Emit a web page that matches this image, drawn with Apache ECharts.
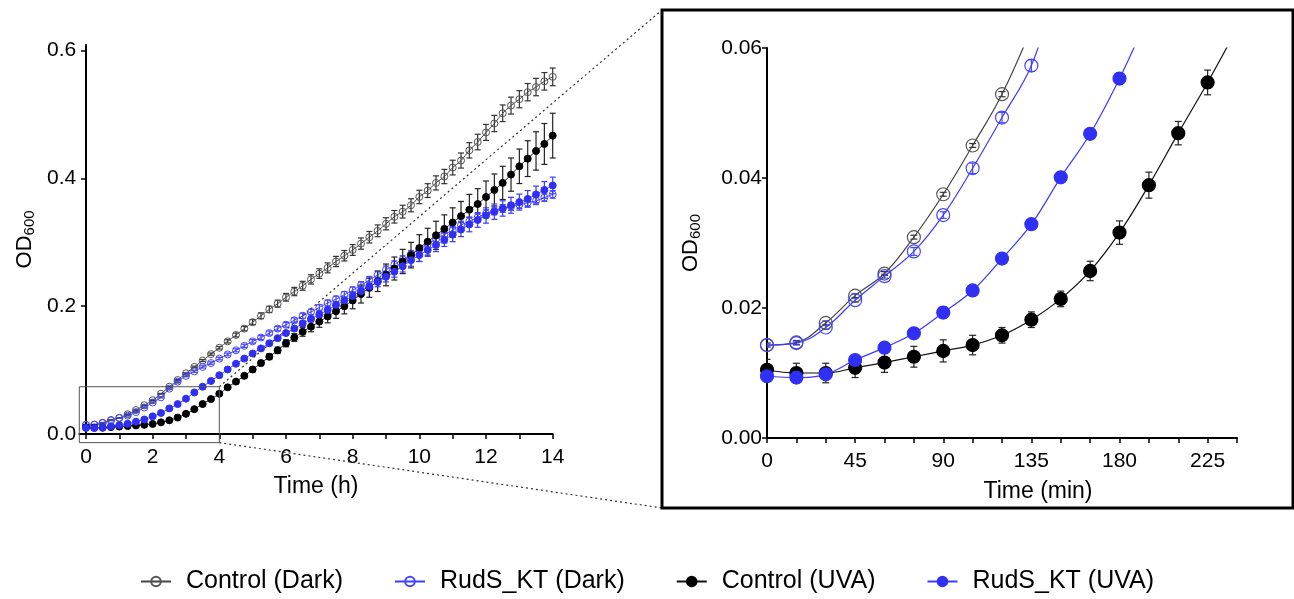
<!DOCTYPE html>
<html><head><meta charset="utf-8">
<script src="https://cdn.jsdelivr.net/npm/echarts@6/dist/echarts.min.js"></script>
<style>html,body{margin:0;padding:0;background:#fff}#c{width:1294px;height:599px}</style>
</head><body><div id="c"></div>
<script>
// time in minutes (sampled every 15 min)
const minutes = [0,15,30,45,60,75,90,105,120,135,150,165,180,195,210,225,240,255,270,285,300,315,330,345,360,375,390,405,420,435,450,465,480,495,510,525,540,555,570,585,600,615,630,645,660,675,690,705,720,735,750,765,780,795,810,825,840];

const seriesNames = ['Control (Dark)', 'RudS_KT (Dark)', 'Control (UVA)', 'RudS_KT (UVA)'];

const ctrlDark = [0.0143,0.0147,0.0177,0.0219,0.0253,0.0309,0.0375,0.0450,0.0529,0.063,0.074,0.0845,0.095,0.105,0.115,0.125,
0.135,0.145,0.155,0.165,0.175,0.185,0.195,0.204,0.214,0.223,0.232,0.242,0.251,0.260,0.270,0.279,
0.288,0.298,0.308,0.318,0.329,0.340,0.348,0.358,0.371,0.381,0.393,0.403,0.417,0.428,0.444,0.457,
0.472,0.486,0.502,0.514,0.524,0.535,0.543,0.552,0.559];
const ctrlDarkErr = [0.0003,0.0003,0.0003,0.0003,0.0003,0.0003,0.0003,0.0003,0.0004,0.0005,0.0006,0.0008,0.001,0.0012,0.0015,0.0018,
0.002,0.0025,0.003,0.0035,0.004,0.0045,0.005,0.0055,0.006,0.0065,0.007,0.0072,0.0075,0.0078,0.008,0.0082,
0.0085,0.0088,0.009,0.0092,0.0095,0.0098,0.010,0.0102,0.0105,0.0108,0.011,0.0112,0.0115,0.0118,0.012,0.0122,
0.0125,0.0127,0.013,0.0132,0.0134,0.0135,0.0136,0.0137,0.0138];

const rudsDark = [0.0143,0.0146,0.0170,0.0212,0.0249,0.0287,0.0343,0.0415,0.0493,0.0573,0.071,0.082,0.091,0.098,0.105,0.111,
0.118,0.1245,0.131,0.138,0.145,0.151,0.158,0.165,0.171,0.178,0.185,0.191,0.198,0.205,0.211,0.218,
0.225,0.233,0.241,0.249,0.257,0.265,0.273,0.281,0.289,0.297,0.305,0.312,0.319,0.327,0.333,0.339,
0.345,0.349,0.353,0.356,0.359,0.362,0.365,0.370,0.375];
const rudsDarkErr = [0.0003,0.0003,0.0003,0.0003,0.0003,0.0006,0.0005,0.0008,0.0008,0.0009,0.001,0.0012,0.0014,0.0016,0.0018,0.002,
0.002,0.0022,0.0024,0.0026,0.0028,0.003,0.0032,0.0034,0.0036,0.0038,0.004,0.0042,0.0044,0.0046,0.0048,0.005,
0.0052,0.0054,0.0056,0.0058,0.006,0.006,0.006,0.006,0.006,0.006,0.006,0.006,0.006,0.006,0.006,0.006,
0.006,0.006,0.006,0.006,0.006,0.006,0.006,0.006,0.006];

const ctrlUVA = [0.0105,0.0100,0.0100,0.0108,0.0116,0.0125,0.0134,0.0143,0.0158,0.0182,0.0214,0.0257,0.0316,0.0389,0.0469,0.0547,
0.063,0.073,0.082,0.091,0.101,0.111,0.121,0.131,0.142,0.151,0.160,0.168,0.176,0.184,0.192,0.200,
0.209,0.219,0.229,0.239,0.249,0.259,0.270,0.280,0.291,0.301,0.311,0.321,0.331,0.341,0.351,0.360,
0.371,0.382,0.393,0.406,0.419,0.431,0.443,0.454,0.467];
const ctrlUVAErr = [0.0016,0.0015,0.0015,0.0015,0.0015,0.0016,0.0017,0.0015,0.0012,0.0012,0.0012,0.0015,0.0018,0.0020,0.0018,0.0019,
0.002,0.0022,0.0025,0.003,0.0035,0.004,0.0045,0.005,0.0055,0.006,0.007,0.008,0.009,0.010,0.011,0.012,
0.013,0.014,0.015,0.016,0.017,0.018,0.019,0.020,0.021,0.021,0.022,0.022,0.023,0.023,0.024,0.024,
0.025,0.025,0.026,0.026,0.027,0.028,0.030,0.032,0.035];

const rudsUVA = [0.0095,0.0093,0.0098,0.0120,0.0139,0.0161,0.0193,0.0227,0.0276,0.0329,0.0401,0.0468,0.0553,0.065,0.074,0.083,
0.092,0.101,0.110,0.118,0.126,0.134,0.142,0.150,0.158,0.165,0.173,0.180,0.187,0.194,0.202,0.209,
0.216,0.224,0.231,0.238,0.246,0.254,0.2625,0.272,0.280,0.288,0.296,0.304,0.312,0.320,0.328,0.335,
0.342,0.348,0.353,0.358,0.363,0.368,0.375,0.382,0.389];
const rudsUVAErr = [0.0004,0.0004,0.0004,0.0004,0.0004,0.0004,0.0009,0.0005,0.0004,0.0004,0.0005,0.0005,0.0009,0.001,0.0012,0.0014,
0.0016,0.0018,0.002,0.0022,0.0024,0.0026,0.0028,0.003,0.0033,0.0036,0.004,0.0043,0.0046,0.005,0.0053,0.0056,
0.006,0.0065,0.007,0.0075,0.008,0.0085,0.009,0.0095,0.010,0.010,0.0105,0.0105,0.011,0.011,0.0115,0.0115,
0.012,0.012,0.012,0.0125,0.0125,0.013,0.013,0.013,0.013];

const leftXTicks = [0,1,2,3,4,5,6,7,8,9,10,11,12,13,14];
const leftXLabels = [0,2,4,6,8,10,12,14];
const leftYTicks = [0,0.2,0.4,0.6];
const rightXTicks = [0,15,30,45,60,75,90,105,120,135,150,165,180,195,210,225,240];
const rightXLabels = [0,45,90,135,180,225];
const rightYTicks = [0,0.02,0.04,0.06];
const zoomBox = {x0:-0.2, x1:4, y0:-0.0135, y1:0.074}; // inset region in hours / OD

const FONT = 'Liberation Sans, Arial, sans-serif';
const styles = [
  {color:'#555555', line:'#444444', fill:'rgba(255,255,255,0)', err:'#333333'},
  {color:'#4646ff', line:'#3c3cff', fill:'rgba(255,255,255,0)', err:'#4646ff'},
  {color:'#000000', line:'#111111', fill:'#000000', err:'#222222'},
  {color:'#3030f5', line:'#3a3aff', fill:'#3030f5', err:'#3a3aff'}
];
const values = [ctrlDark, rudsDark, ctrlUVA, rudsUVA];
const errs = [ctrlDarkErr, rudsDarkErr, ctrlUVAErr, rudsUVAErr];

function errRender(color, cap){
  return function(params, api){
    const x = api.value(0), lo = api.value(1), hi = api.value(2);
    const a = api.coord([x, lo]), b = api.coord([x, hi]);
    const st = {stroke: color, lineWidth: 1.2};
    return {type:'group', children:[
      {type:'line', shape:{x1:a[0],y1:a[1],x2:b[0],y2:b[1]}, style:st},
      {type:'line', shape:{x1:a[0]-cap,y1:a[1],x2:a[0]+cap,y2:a[1]}, style:st},
      {type:'line', shape:{x1:b[0]-cap,y1:b[1],x2:b[0]+cap,y2:b[1]}, style:st}
    ]};
  };
}

const series = [];
// left panel (hours)
values.forEach((vals, k) => {
  const s = styles[k];
  series.push({
    type:'custom', xAxisIndex:0, yAxisIndex:0, z:2, silent:true,
    renderItem: errRender(s.err, 3),
    encode:{x:0, y:[1,2]},
    data: vals.map((v,i)=>[minutes[i]/60, v-errs[k][i], v+errs[k][i]])
  });
});
values.forEach((vals, k) => {
  const s = styles[k];
  series.push({
    name: seriesNames[k], type:'line', xAxisIndex:0, yAxisIndex:0, z:3,
    smooth:0.4, symbol:'circle', symbolSize:7,
    lineStyle:{color:s.line, width:1},
    itemStyle:{color:s.fill, borderColor:s.color, borderWidth:1},
    data: vals.map((v,i)=>[minutes[i]/60, v])
  });
});
// right panel (minutes, first 4 h)
values.forEach((vals, k) => {
  const s = styles[k];
  const d = [];
  vals.forEach((v,i)=>{ if (minutes[i] <= 240 && v + errs[k][i] <= 0.06) d.push([minutes[i], v-errs[k][i], v+errs[k][i]]); });
  series.push({
    type:'custom', xAxisIndex:1, yAxisIndex:1, z:2, silent:true, clip:true,
    renderItem: errRender(s.err, 3.5),
    encode:{x:0, y:[1,2]},
    data: d
  });
});
values.forEach((vals, k) => {
  const s = styles[k];
  series.push({
    name: seriesNames[k], type:'line', xAxisIndex:1, yAxisIndex:1, z:3, clip:true,
    smooth:0.4, symbol:'circle', symbolSize:13,
    lineStyle:{color:s.line, width:1.2},
    itemStyle:{color:s.fill, borderColor:s.color, borderWidth:1.2},
    data: vals.map((v,i)=>[minutes[i], v]).filter(p=>p[0] <= 240)
  });
});

const axisLineStyle = {color:'#000', width:2};
const nameStyleX = {color:'#000', fontSize:23, fontFamily:FONT};
const odName = '{a|OD}{b|600}';
const odRich = {a:{fontSize:22, fontFamily:FONT, color:'#000'}, b:{fontSize:15, fontFamily:FONT, color:'#000', padding:[10,0,0,0]}};

const option = {
  animation:false,
  backgroundColor:'#fff',
  textStyle:{fontFamily:FONT},
  grid:[
    {left:79.3, top:44.9, width:473.4, height:389.1},
    {left:767, top:48, width:470, height:390}
  ],
  xAxis:[
    {gridIndex:0, type:'value', min:-0.2, max:14,
     name:'Time (h)', nameLocation:'middle', nameGap:41, nameTextStyle:nameStyleX,
     axisLine:{show:true, onZero:false, lineStyle:axisLineStyle},
     axisTick:{show:true, length:5, lineStyle:{color:'#000', width:1.5}, customValues:leftXTicks},
     axisLabel:{color:'#000', fontSize:21, fontFamily:FONT, margin:13, customValues:leftXLabels, formatter:v=>String(v)},
     splitLine:{show:false}},
    {gridIndex:1, type:'value', min:0, max:240,
     name:'Time (min)', nameLocation:'middle', nameGap:42,
     nameTextStyle:Object.assign({}, nameStyleX, {padding:[0,0,0,72]}),
     axisLine:{show:true, onZero:false, lineStyle:axisLineStyle},
     axisTick:{show:true, length:5, lineStyle:{color:'#000', width:1.5}, customValues:rightXTicks},
     axisLabel:{color:'#000', fontSize:21, fontFamily:FONT, margin:13, customValues:rightXLabels, formatter:v=>String(v)},
     splitLine:{show:false}}
  ],
  yAxis:[
    {gridIndex:0, type:'value', min:0, max:0.609,
     name:odName, nameLocation:'middle', nameGap:42, nameRotate:90, nameTextStyle:{rich:odRich},
     axisLine:{show:true, onZero:true, lineStyle:axisLineStyle},
     axisTick:{show:true, length:5, lineStyle:{color:'#000', width:1.5}, customValues:leftYTicks},
     axisLabel:{color:'#000', fontSize:21, fontFamily:FONT, margin:3, customValues:leftYTicks, formatter:v=>v.toFixed(1)},
     splitLine:{show:false}},
    {gridIndex:1, type:'value', min:0, max:0.06,
     name:odName, nameLocation:'middle', nameGap:64, nameRotate:90, nameTextStyle:{rich:odRich},
     axisLine:{show:true, onZero:false, lineStyle:axisLineStyle},
     axisTick:{show:true, length:5, lineStyle:{color:'#000', width:1.5}, customValues:rightYTicks},
     axisLabel:{color:'#000', fontSize:21, fontFamily:FONT, margin:5, customValues:rightYTicks, formatter:v=>v.toFixed(2)},
     splitLine:{show:false}}
  ],
  legend:{
    data:seriesNames, left:'center', top:564, itemWidth:30, itemHeight:12, itemGap:51,
    textStyle:{color:'#000', fontSize:25, fontFamily:FONT, padding:[0,0,0,10]}
  },
  series:series
};

const chart = echarts.init(document.getElementById('c'), null, {renderer:'canvas'});
chart.setOption(option);

// inset rectangle + connector lines, positioned through the left axes
const tl = chart.convertToPixel({gridIndex:0}, [zoomBox.x0, zoomBox.y1]);
const br = chart.convertToPixel({gridIndex:0}, [zoomBox.x1, zoomBox.y0]);
const box = {x:662, y:10, w:631, h:498};
chart.setOption({graphic:[
  {type:'rect', shape:{x:tl[0], y:tl[1], width:br[0]-tl[0], height:br[1]-tl[1]}, style:{fill:'none', stroke:'#555', lineWidth:1}, z:10},
  {type:'line', shape:{x1:br[0], y1:tl[1], x2:box.x, y2:box.y}, style:{stroke:'#333', lineWidth:1.2, lineDash:[2,3]}, z:10},
  {type:'line', shape:{x1:br[0], y1:br[1], x2:box.x, y2:box.y+box.h}, style:{stroke:'#333', lineWidth:1.2, lineDash:[2,3]}, z:10},
  {type:'rect', shape:{x:box.x, y:box.y, width:box.w, height:box.h}, style:{fill:'none', stroke:'#000', lineWidth:3}, z:10}
]});
</script>
</body></html>
